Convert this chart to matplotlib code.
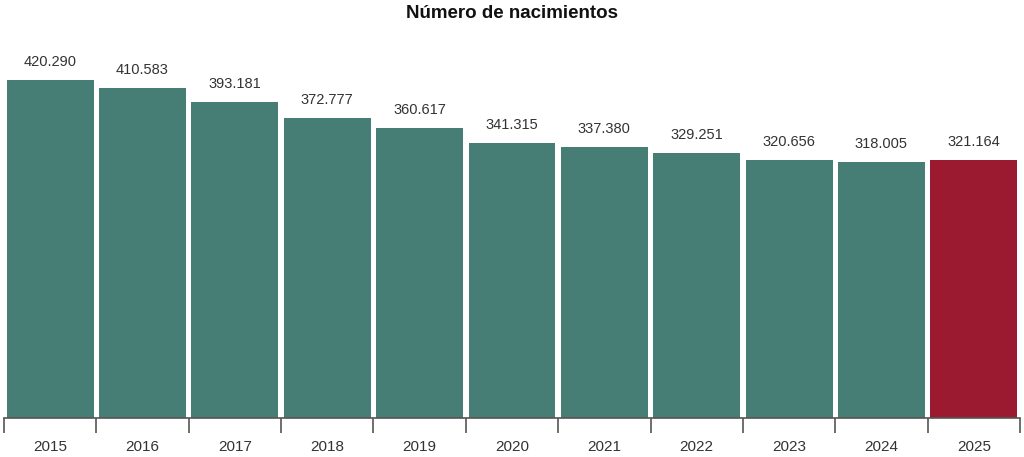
import matplotlib
matplotlib.use("Agg")
from matplotlib import pyplot as plt

plt.rcParams["font.family"] = ["Liberation Sans", "DejaVu Sans"]

years = ["2015", "2016", "2017", "2018", "2019", "2020", "2021", "2022", "2023", "2024", "2025"]
births = [420290, 410583, 393181, 372777, 360617, 341315, 337380, 329251, 320656, 318005, 321164]
labels = ["420.290", "410.583", "393.181", "372.777", "360.617", "341.315",
          "337.380", "329.251", "320.656", "318.005", "321.164"]

green = "#467d74"
red = "#9c1a30"
colors = [green] * (len(years) - 1) + [red]

fig = plt.figure(figsize=(10.24, 4.57), dpi=100)
ax = fig.add_axes([4 / 1024, 39 / 457, 1016 / 1024, 378 / 457])

x = list(range(len(years)))
ax.bar(x, births, width=0.94, color=colors, edgecolor="none")

for xi, v, lab in zip(x, births, labels):
    ax.annotate(lab, (xi, v), xytext=(0, 8), textcoords="offset points",
                ha="center", va="bottom", fontsize=10.5, color="#333333")

ax.set_xlim(-0.5, len(years) - 0.5)
ax.set_ylim(0, 470000)

# ticks at bar boundaries, labels centred under bars
ax.set_xticks([i - 0.5 for i in range(len(years) + 1)])
ax.set_xticklabels([])
ax.tick_params(axis="x", which="major", length=11, width=1.2, color="#555555")
ax.set_xticks(x, minor=True)
ax.set_xticklabels(years, minor=True)
ax.tick_params(axis="x", which="minor", length=0, pad=16, labelsize=11, labelcolor="#333333")
ax.set_yticks([])

for side in ["top", "right", "left"]:
    ax.spines[side].set_visible(False)
ax.spines["bottom"].set_color("#555555")
ax.spines["bottom"].set_linewidth(1.2)

fig.text(0.5, 1 - 14 / 457, "Número de nacimientos", ha="center", va="center",
         fontsize=13.5, fontweight="bold", color="#111111")

fig.savefig("out.png", dpi=100)
plt.close(fig)
